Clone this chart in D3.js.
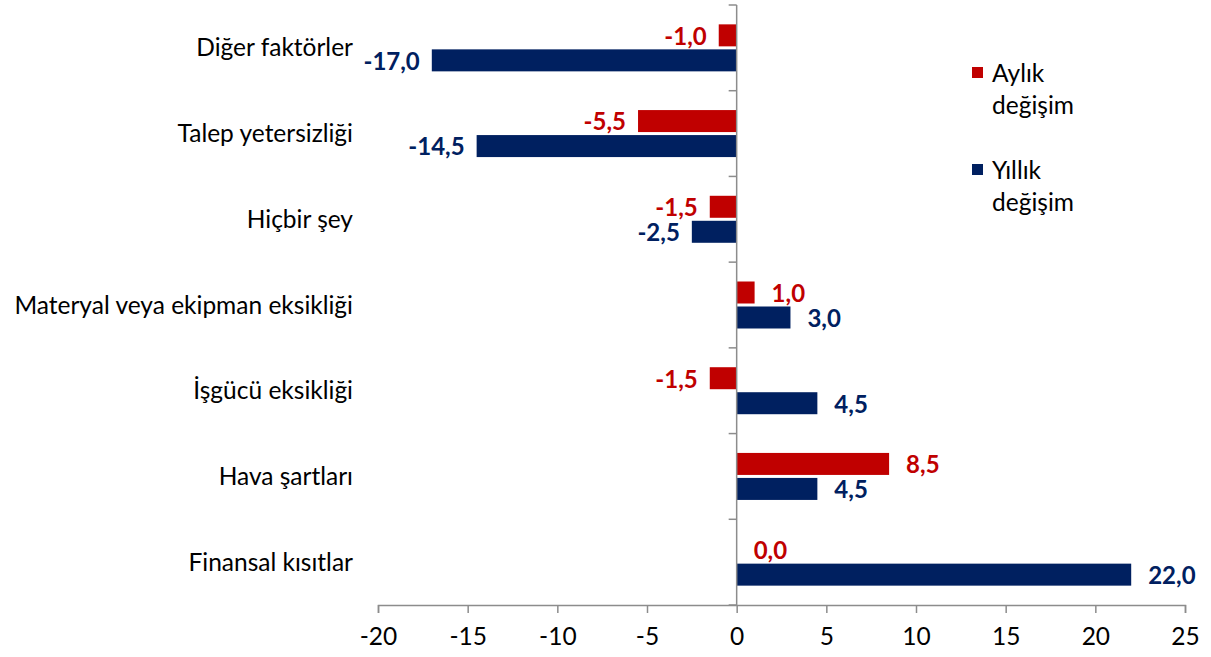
<!DOCTYPE html>
<html><head><meta charset="utf-8">
<script src="https://cdn.jsdelivr.net/npm/d3@7"></script>
<style>body{margin:0;background:#fff}svg{display:block;font-family:Lato,"Open Sans",sans-serif}</style>
</head><body><svg id="c" width="1211" height="657"></svg>
<script>
const categories = ["Diğer faktörler","Talep yetersizliği","Hiçbir şey","Materyal veya ekipman eksikliği","İşgücü eksikliği","Hava şartları","Finansal kısıtlar"];
const seriesNames = ["Aylık değişim","Yıllık değişim"];
const monthly = [-1.0,-5.5,-1.5,1.0,-1.5,8.5,0.0];
const yearly = [-17.0,-14.5,-2.5,3.0,4.5,4.5,22.0];
const xTicks = [-20,-15,-10,-5,0,5,10,15,20,25];
const colors = ["#C00000","#002060"];
const FS = 24.5;

const svg = d3.select("#c");
const x = d3.scaleLinear().domain([-20,25]).range([378,1185]);
const y = d3.scaleBand().domain(categories).range([5,605]);
const bw = y.bandwidth();
const y1 = d3.scaleBand().domain(seriesNames).range([(bw-47)/2,(bw+47)/2]).paddingInner(0.12);
const fmt = v => d3.format(".1f")(v).replace(".",",").replace("\u2212","-");

const data = categories.map((c,i)=>({cat:c, vals:[monthly[i],yearly[i]]}));

// bars
const g = svg.append("g");
data.forEach(d=>{
  d.vals.forEach((v,j)=>{
    const yy = y(d.cat)+y1(seriesNames[j]);
    g.append("rect")
      .attr("x", x(Math.min(0,v))).attr("y", yy)
      .attr("width", Math.abs(x(v)-x(0))).attr("height", y1.bandwidth())
      .attr("fill", colors[j]);
    const neg = v<0;
    g.append("text")
      .attr("x", neg ? x(v)-12 : x(v)+17)
      .attr("y", yy + y1.bandwidth()/2 + 1)
      .attr("dy","0.35em")
      .attr("text-anchor", neg ? "end" : "start")
      .attr("font-size",24).attr("font-weight","bold")
      .attr("fill", colors[j]).text(fmt(v));
  });
});

// x axis
const xa = svg.append("g").attr("transform","translate(0,605)")
  .call(d3.axisBottom(x).tickValues(xTicks).tickSize(8).tickPadding(15).tickFormat(d=>String(d)));
xa.select(".domain").attr("stroke","#8c8c8c").attr("stroke-width",1.5);
xa.selectAll(".tick line").attr("stroke","#8c8c8c").attr("stroke-width",1.5);
xa.selectAll("text").attr("font-size",FS).attr("fill","#000").attr("font-family","Lato,'Open Sans',sans-serif");

// y axis at zero
const yTickVals = d3.range(categories.length+1).map(i=>5+i*bw);
svg.append("line").attr("x1",x(0)).attr("x2",x(0)).attr("y1",5).attr("y2",605)
  .attr("stroke","#8c8c8c").attr("stroke-width",1.5);
svg.append("g").selectAll("line").data(yTickVals).join("line")
  .attr("x1",x(0)-8).attr("x2",x(0)).attr("y1",d=>d).attr("y2",d=>d)
  .attr("stroke","#8c8c8c").attr("stroke-width",1.5);

// category labels
svg.append("g").selectAll("text").data(categories).join("text")
  .attr("x",353).attr("y",d=>y(d)+bw/2).attr("dy","0.35em")
  .attr("text-anchor","end").attr("font-size",FS).attr("fill","#000").text(d=>d);

// legend
const leg = svg.append("g");
const legItems = [["Aylık","değişim"],["Yıllık","değişim"]];
legItems.forEach((lines,i)=>{
  const top = 73 + i*97;
  leg.append("rect").attr("x",972).attr("y",top-6).attr("width",11).attr("height",11).attr("fill",colors[i]);
  lines.forEach((t,k)=>{
    leg.append("text").attr("x",992).attr("y",top+k*32).attr("dy","0.35em")
      .attr("font-size",FS).attr("fill","#000").text(t);
  });
});
</script></body></html>
